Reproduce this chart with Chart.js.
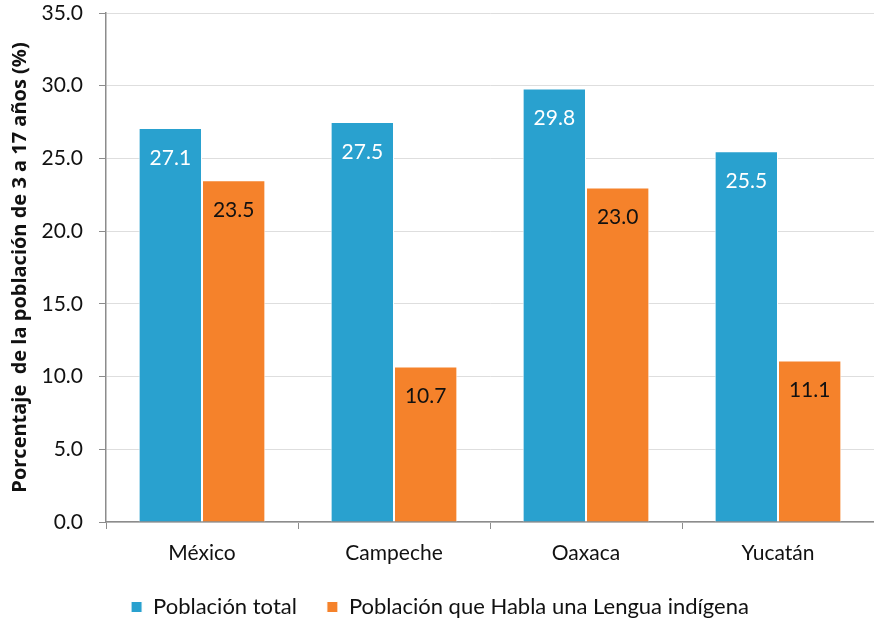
<!DOCTYPE html>
<html>
<head>
<meta charset="utf-8">
<script src="https://cdn.jsdelivr.net/npm/chart.js@4"></script>
<style>
  html, body { margin: 0; padding: 0; background: #fff; }
  #wrap { width: 874px; height: 626px; }
</style>
</head>
<body>
<div id="wrap"><canvas id="chart" width="874" height="626"></canvas></div>
<script>
// Values
const estados = ['México', 'Campeche', 'Oaxaca', 'Yucatán'];
const poblacionTotal = [27.1, 27.5, 29.8, 25.5];
const poblacionIndigena = [23.5, 10.7, 23.0, 11.1];
const serieNombres = ['Población total', 'Población que Habla una Lengua indígena'];

const fontFamily = 'Lato, "Open Sans", sans-serif';

// small plugin to write values inside the top of each bar
const valueLabels = {
    id: 'valueLabels',
    afterDatasetsDraw(chart) {
        const ctx = chart.ctx;
        ctx.save();
        ctx.font = '21px ' + fontFamily;
        ctx.textAlign = 'center';
        ctx.textBaseline = 'middle';
        chart.data.datasets.forEach((ds, i) => {
            const meta = chart.getDatasetMeta(i);
            ctx.fillStyle = i === 0 ? '#ffffff' : '#111111';
            meta.data.forEach((bar, j) => {
                ctx.fillText(ds.data[j].toFixed(1), bar.x, bar.y + 30);
            });
        });
        ctx.restore();
    }
};

const ctx = document.getElementById('chart').getContext('2d');
new Chart(ctx, {
    type: 'bar',
    data: {
        labels: estados,
        datasets: [
            {
                label: serieNombres[0],
                data: poblacionTotal,
                backgroundColor: '#29a1cf',
                borderColor: '#ffffff',
                borderWidth: 1
            },
            {
                label: serieNombres[1],
                data: poblacionIndigena,
                backgroundColor: '#f5822b',
                borderColor: '#ffffff',
                borderWidth: 1
            }
        ]
    },
    options: {
        responsive: false,
        animation: false,
        layout: { padding: { left: 6, right: 0, top: 0, bottom: -2 } },
        datasets: {
            bar: { categoryPercentage: 0.66, barPercentage: 1.0 }
        },
        plugins: {
            legend: {
                position: 'bottom',
                labels: {
                    boxWidth: 11,
                    boxHeight: 11,
                    padding: 30,
                    color: '#111',
                    font: { family: fontFamily, size: 22, lineHeight: 0.5 }
                }
            },
            tooltip: { enabled: false }
        },
        scales: {
            x: {
                grid: {
                    drawOnChartArea: false,
                    drawTicks: true,
                    tickLength: 7,
                    color: '#8c8c8c'
                },
                border: { color: '#8c8c8c', width: 1.5 },
                ticks: {
                    color: '#111',
                    padding: 12,
                    font: { family: fontFamily, size: 21 }
                },
                afterFit: s => { s.height = 44; }
            },
            y: {
                min: 0,
                max: 35,
                ticks: {
                    stepSize: 5,
                    color: '#111',
                    padding: 16,
                    font: { family: fontFamily, size: 21 },
                    callback: v => v.toFixed(1)
                },
                grid: {
                    color: '#dedede',
                    tickColor: '#8c8c8c',
                    tickLength: 7
                },
                border: { color: '#8c8c8c', width: 1.5 },
                title: {
                    display: true,
                    text: 'Porcentaje  de la población de 3 a 17 años (%)',
                    color: '#111',
                    font: { family: '"Open Sans", sans-serif', size: 20, weight: 'bold' },
                    padding: { top: 2, bottom: 2 }
                },
                afterFit: s => {
                    s.width = 100;
                    s.paddingTop = 13;
                    s.paddingBottom = 0;
                }
            }
        }
    },
    plugins: [valueLabels]
});
</script>
</body>
</html>
